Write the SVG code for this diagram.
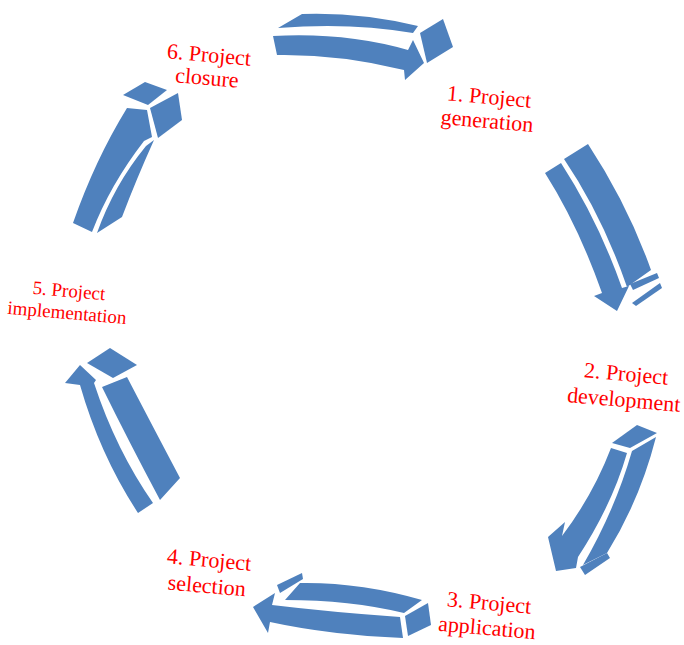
<svg xmlns="http://www.w3.org/2000/svg" width="684" height="645" viewBox="0 0 684 645">
<style>
.a{fill:#4f81bd}
.t{font-family:"Liberation Serif","Times New Roman",serif;font-size:22px;fill:#ff0000;text-anchor:middle}
.s{font-size:19px}
</style>
<rect width="684" height="645" fill="#ffffff"/>
<g id="connectors">
<g id="arrow1">
<path class="a" d="M302,14 Q360,12 418,26 L413,33 Q350,22 278,28 Z"/>
<path class="a" d="M273,36 Q345,32 408,50 L413,40 L424,63 L405,80 L404,70 Q340,54 277,55 Z"/>
<path class="a" d="M420,33 L443,19 L453,47 L427,63 Z"/>
</g>
<g id="arrow2">
<path class="a" d="M545,173 L561,163 Q598,220 622,288 L629,286 L617,311 L594,296 L602,293 Q578,225 545,173 Z"/>
<path class="a" d="M564,159 L588,144 Q628,205 651,270 L627,287 Q602,215 564,159 Z"/>
<path class="a" d="M630,284 L657,273 L659,278 L633,290 Z"/>
<path class="a" d="M632,303 L660,283 L662,288 L636,306 Z"/>
</g>
<g id="arrow3">
<path class="a" d="M612,443 L637,425 L657,433 L630,448 Z"/>
<path class="a" d="M632,451 L656,437 Q640,500 607,553 L583,565 Q615,510 632,451 Z"/>
<path class="a" d="M611,448 L627,453 Q612,505 578,557 L576,568 L556,571 L548,537 L565,522 L562,536 Q593,495 611,448 Z"/>
<path class="a" d="M580,567 L607,553 L610,558 L585,575 Z"/>
</g>
<g id="arrow4">
<path class="a" d="M300,583 Q360,582 422,600 L404,613 Q350,600 285,600 Z"/>
<path class="a" d="M253,607 L275,593 L272,605 Q330,612 400,617 L403,638 Q330,635 270,622 L268,633 Z"/>
<path class="a" d="M405,616 L428,603 L431,625 L408,636 Z"/>
<path class="a" d="M277,585 L302,573 L303,579 L280,593 Z"/>
</g>
<g id="arrow5">
<path class="a" d="M87,363 L110,348 L137,365 L113,378 Z"/>
<path class="a" d="M102,387 L127,377 Q152,425 180,478 L160,500 Q128,440 102,387 Z"/>
<path class="a" d="M80,365 L96,380 L94,383 Q116,450 153,503 L138,513 Q100,455 80,385 L65,383 Z"/>
</g>
<g id="arrow6">
<path class="a" d="M123,95 L145,82 L167,90 L148,105 Z"/>
<path class="a" d="M150,108 L178,93 L182,120 L158,138 Z"/>
<path class="a" d="M127,108 L147,110 L152,137 L144,141 Q110,185 92,232 L73,223 Q95,160 127,108 Z"/>
<path class="a" d="M146,146 L154,140 Q136,180 122,217 L97,233 Q114,185 146,146 Z"/>
</g>
</g>
<g id="node1"><text class="t" transform="rotate(5 488 110)"><tspan x="488" y="104">1. Project</tspan><tspan x="488" y="128">generation</tspan></text></g>
<g id="node2"><text class="t" transform="rotate(5 625 387)"><tspan x="625" y="381">2. Project</tspan><tspan x="625" y="407">development</tspan></text></g>
<g id="node3"><text class="t" transform="rotate(5 488 616)"><tspan x="488" y="610">3. Project</tspan><tspan x="488" y="635">application</tspan></text></g>
<g id="node4"><text class="t" transform="rotate(5 208 573)"><tspan x="208" y="567">4. Project</tspan><tspan x="208" y="593">selection</tspan></text></g>
<g id="node5"><text class="t s" transform="rotate(5 68 302)"><tspan x="68" y="297">5. Project</tspan><tspan x="68" y="319">implementation</tspan></text></g>
<g id="node6"><text class="t" transform="rotate(5 208 67)"><tspan x="208" y="62">6. Project</tspan><tspan x="208" y="85">closure</tspan></text></g>
</svg>
